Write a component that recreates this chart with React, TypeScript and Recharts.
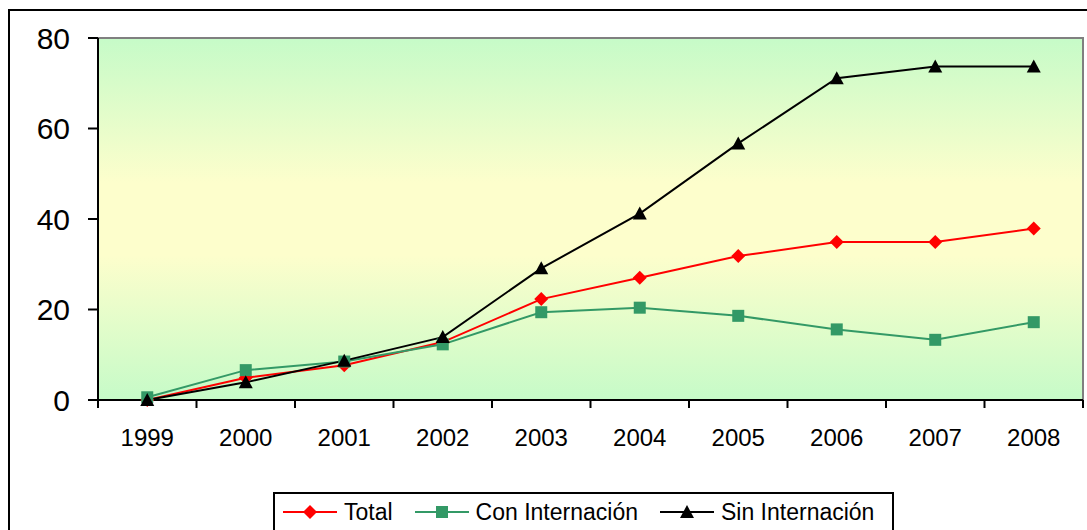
import { CartesianGrid, Legend, Line, LineChart, ReferenceArea, XAxis, YAxis } from "recharts";

const years = ["1999", "2000", "2001", "2002", "2003", "2004", "2005", "2006", "2007", "2008"];
const total = [0, 4.9, 7.7, 12.8, 22.3, 27, 31.8, 34.9, 34.9, 37.9];
const conInternacion = [0.6, 6.6, 8.5, 12.3, 19.4, 20.4, 18.6, 15.6, 13.3, 17.2];
const sinInternacion = [0, 3.9, 8.7, 13.9, 29.1, 41.2, 56.7, 71.1, 73.7, 73.7];
const yTicks = [0, 20, 40, 60, 80];

const data = years.map((year, i) => ({
  year,
  total: total[i],
  con: conInternacion[i],
  sin: sinInternacion[i],
}));

const FONT = '"Liberation Sans", Arial, sans-serif';
const RED = "#ff0000";
const GREEN = "#339966";

const Diamond = ({ cx, cy }: any) =>
  cx == null ? null : (
    <polygon points={`${cx},${cy - 7} ${cx + 7},${cy} ${cx},${cy + 7} ${cx - 7},${cy}`} fill={RED} />
  );
const Square = ({ cx, cy }: any) =>
  cx == null ? null : <rect x={cx - 6} y={cy - 6} width={12} height={12} fill={GREEN} />;
const Triangle = ({ cx, cy }: any) =>
  cx == null ? null : (
    <polygon points={`${cx},${cy - 7} ${cx + 7},${cy + 6} ${cx - 7},${cy + 6}`} fill="#000" />
  );

// category labels in the middle, tick marks on the band edges
const XTick = ({ x, y, payload, index, width, visibleTicksCount }: any) => {
  const half = width / visibleTicksCount / 2;
  const axisY = y - 30;
  return (
    <g>
      <line x1={x - half} x2={x - half} y1={axisY} y2={axisY + 8} stroke="#000" strokeWidth={2} />
      {index === visibleTicksCount - 1 && (
        <line x1={x + half} x2={x + half} y1={axisY} y2={axisY + 8} stroke="#000" strokeWidth={2} />
      )}
      <text x={x} y={axisY + 38} dy="0.35em" textAnchor="middle" fontSize={24} fontFamily={FONT} fill="#000">
        {payload.value}
      </text>
    </g>
  );
};

const legendItems = [
  { label: "Total", color: RED, mark: "diamond" },
  { label: "Con Internación", color: GREEN, mark: "square" },
  { label: "Sin Internación", color: "#000", mark: "triangle" },
];

const LegendBox = () => (
  <div
    style={{
      display: "flex",
      alignItems: "center",
      border: "2px solid #000",
      background: "#fff",
      width: 621,
      height: 40,
      padding: "0 0 0 8px",
      fontFamily: FONT,
      fontSize: 23,
      color: "#000",
      boxSizing: "border-box",
    }}
  >
    {legendItems.map((it, i) => (
      <div key={it.label} style={{ display: "flex", alignItems: "center", marginLeft: i === 0 ? 0 : 22 }}>
        <svg width={54} height={16}>
          <line x1={0} x2={54} y1={8} y2={8} stroke={it.color} strokeWidth={2} />
          {it.mark === "diamond" && <polygon points="27,1 34,8 27,15 20,8" fill={it.color} />}
          {it.mark === "square" && <rect x={21} y={2} width={12} height={12} fill={it.color} />}
          {it.mark === "triangle" && <polygon points="27,1 34,14 20,14" fill={it.color} />}
        </svg>
        <span style={{ marginLeft: 7, whiteSpace: "nowrap" }}>{it.label}</span>
      </div>
    ))}
  </div>
);

export default function App() {
  return (
    <div style={{ position: "absolute", left: 0, top: 0, width: 1087, height: 530, overflow: "hidden", background: "#fff" }}>
      <div
        style={{
          position: "absolute",
          left: 8,
          top: 9,
          width: 1120,
          height: 600,
          border: "2px solid #000",
        }}
      />
      <div style={{ position: "absolute", left: 0, top: 0 }}>
        <LineChart width={1087} height={530} data={data} margin={{ top: 38, right: 4, left: 0, bottom: 90 }}>
          <defs>
            <linearGradient id="bg" x1="0" y1="0" x2="0" y2="1">
              <stop offset="0%" stopColor="#c6fbc8" />
              <stop offset="40%" stopColor="#fdfecc" />
              <stop offset="60%" stopColor="#fdfecc" />
              <stop offset="100%" stopColor="#c6fbc8" />
            </linearGradient>
          </defs>
          <ReferenceArea y1={0} y2={80} fill="url(#bg)" fillOpacity={1} stroke="#808080" strokeWidth={2} />
          <CartesianGrid vertical={false} horizontalValues={[20, 40, 60]} stroke="#000" strokeWidth={2} />
          <XAxis
            dataKey="year"
            scale="band"
            height={40}
            axisLine={{ stroke: "#000", strokeWidth: 2 }}
            tickLine={false}
            tickSize={8}
            tickMargin={22}
            interval={0}
            tick={<XTick />}
          />
          <YAxis
            width={98}
            domain={[0, 80]}
            ticks={yTicks}
            axisLine={{ stroke: "#000", strokeWidth: 2 }}
            tickLine={{ stroke: "#000", strokeWidth: 2 }}
            tickSize={10}
            tickMargin={18}
            tick={{ fontSize: 30, fill: "#000", fontFamily: FONT }}
          />
          <Legend
            layout="horizontal"
            verticalAlign="middle"
            align="center"
            content={<LegendBox />}
            wrapperStyle={{ top: 492, left: 273, width: "auto", height: "auto" }}
          />
          <Line dataKey="total" stroke={RED} strokeWidth={2} dot={<Diamond />} activeDot={false} isAnimationActive={false} />
          <Line dataKey="con" stroke={GREEN} strokeWidth={2} dot={<Square />} activeDot={false} isAnimationActive={false} />
          <Line dataKey="sin" stroke="#000" strokeWidth={2} dot={<Triangle />} activeDot={false} isAnimationActive={false} />
        </LineChart>
      </div>
    </div>
  );
}
